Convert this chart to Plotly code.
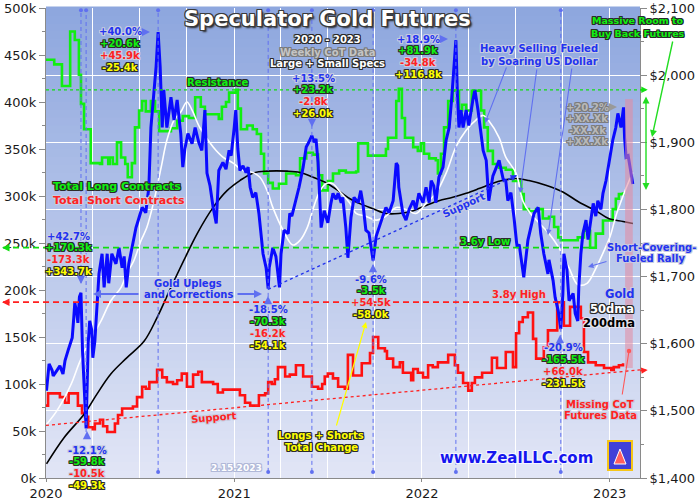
import pandas as pd
import plotly.graph_objects as go

# weekly CoT totals, thousands of contracts (step changes)
LONG_DATES = [
    "2020-01-01", "2020-01-17", "2020-02-01", "2020-02-17", "2020-02-26", "2020-03-05", "2020-03-09", "2020-03-15",
    "2020-03-28", "2020-04-15", "2020-04-19", "2020-05-01", "2020-05-04", "2020-05-10", "2020-05-18", "2020-05-26",
    "2020-06-03", "2020-06-08", "2020-06-16", "2020-06-22", "2020-06-30", "2020-07-06", "2020-07-13", "2020-07-23",
    "2020-07-31", "2020-08-08", "2020-08-31", "2020-09-12", "2020-09-23", "2020-10-05", "2020-10-17", "2020-10-28",
    "2020-11-05", "2020-12-02", "2020-12-08", "2020-12-16", "2020-12-22", "2021-01-04", "2021-01-08", "2021-01-14",
    "2021-01-26", "2021-02-06", "2021-02-14", "2021-02-22", "2021-02-28", "2021-03-08", "2021-03-17", "2021-03-29",
    "2021-04-12", "2021-05-01", "2021-05-09", "2021-05-21", "2021-06-03", "2021-06-13", "2021-06-21", "2021-07-02",
    "2021-07-12", "2021-07-24", "2021-08-06", "2021-08-26", "2021-08-30", "2021-09-18", "2021-10-23", "2021-10-27",
    "2021-11-12", "2021-11-17", "2021-11-23", "2021-11-29", "2021-12-15", "2021-12-24", "2021-12-30", "2022-01-05",
    "2022-01-15", "2022-01-28", "2022-02-01", "2022-02-07", "2022-02-13", "2022-02-21", "2022-03-02", "2022-03-14",
    "2022-03-20", "2022-03-28", "2022-04-08", "2022-04-26", "2022-05-02", "2022-05-09", "2022-05-19", "2022-05-31",
    "2022-06-13", "2022-06-27", "2022-07-13", "2022-07-18", "2022-07-28", "2022-08-11", "2022-08-24", "2022-09-05",
    "2022-09-15", "2022-09-23", "2022-09-28", "2022-10-31", "2022-11-12", "2022-11-24", "2022-12-05", "2022-12-19",
    "2023-01-07", "2023-01-13", "2023-01-19", "2023-01-27",
]
LONGS = [
    445, 440, 417, 475, 466, 429, 398, 371,
    335, 334, 341, 334, 341, 334, 357, 341,
    334, 320, 335, 373, 391, 401, 390, 401,
    390, 369, 372, 380, 385, 383, 405, 395,
    387, 382, 395, 400, 410, 413, 393, 371,
    375, 371, 366, 345, 324, 314, 308, 313,
    324, 322, 340, 346, 344, 322, 306, 316,
    324, 327, 325, 326, 356, 343, 350, 362,
    401, 414, 383, 362, 352, 348, 356, 345,
    340, 338, 324, 345, 373, 401, 412, 391,
    397, 391, 412, 391, 373, 348, 334, 330,
    328, 316, 302, 286, 284, 286, 276, 278,
    267, 256, 253, 256, 263, 245, 260, 274,
    286, 297, 302, 304,
]

SHORT_DATES = [
    "2020-01-01", "2020-01-05", "2020-01-28", "2020-02-07", "2020-02-14", "2020-03-03", "2020-03-11", "2020-03-17",
    "2020-03-23", "2020-04-01", "2020-04-05", "2020-04-15", "2020-04-21", "2020-04-29", "2020-05-14", "2020-05-20",
    "2020-05-28", "2020-06-18", "2020-06-26", "2020-07-06", "2020-07-13", "2020-07-20", "2020-08-04", "2020-08-14",
    "2020-08-23", "2020-09-04", "2020-09-12", "2020-09-21", "2020-10-01", "2020-10-13", "2020-10-23", "2020-10-30",
    "2020-11-21", "2020-11-30", "2020-12-10", "2021-01-12", "2021-01-22", "2021-02-01", "2021-02-18", "2021-03-02",
    "2021-03-08", "2021-03-15", "2021-03-21", "2021-03-27", "2021-04-10", "2021-04-19", "2021-05-01", "2021-05-15",
    "2021-06-01", "2021-06-13", "2021-06-21", "2021-06-26", "2021-07-02", "2021-07-12", "2021-07-22", "2021-08-04",
    "2021-08-10", "2021-08-20", "2021-09-06", "2021-09-22", "2021-09-28", "2021-10-08", "2021-10-21", "2021-10-25",
    "2021-11-06", "2021-11-19", "2021-11-25", "2021-12-11", "2021-12-15", "2021-12-24", "2022-01-03", "2022-01-13",
    "2022-01-22", "2022-02-01", "2022-02-21", "2022-03-06", "2022-03-12", "2022-03-22", "2022-04-01", "2022-04-08",
    "2022-04-14", "2022-04-28", "2022-05-17", "2022-05-27", "2022-06-13", "2022-06-27", "2022-07-03", "2022-07-09",
    "2022-07-16", "2022-07-26", "2022-08-05", "2022-08-11", "2022-08-26", "2022-09-03", "2022-09-21", "2022-10-04",
    "2022-10-16", "2022-11-06", "2022-11-12", "2022-11-20", "2022-12-05", "2022-12-21", "2023-01-04", "2023-01-09",
    "2023-01-19", "2023-01-27",
]
SHORTS = [
    77, 90, 86, 80, 90, 77, 69, 65,
    54, 52, 58, 62, 55, 49, 58, 67,
    74, 76, 86, 97, 95, 102, 115, 107,
    102, 100, 104, 111, 97, 110, 113, 102,
    100, 91, 94, 88, 80, 77, 88, 90,
    102, 100, 105, 118, 108, 110, 120, 108,
    97, 95, 100, 108, 111, 106, 97, 95,
    131, 109, 122, 133, 150, 138, 135, 127,
    118, 123, 112, 104, 116, 112, 107, 120,
    118, 123, 131, 120, 112, 101, 93, 101,
    107, 112, 128, 117, 134, 118, 154, 166,
    171, 176, 148, 127, 139, 157, 187, 162,
    182, 170, 134, 123, 120, 117, 115, 118,
    120, 122,
]

# gold price, US$/oz
GOLD_DATES = [
    "2020-01-02", "2020-01-07", "2020-01-13", "2020-01-15", "2020-01-22", "2020-01-28", "2020-02-03", "2020-02-07",
    "2020-02-13", "2020-02-21", "2020-02-24", "2020-02-26", "2020-03-01", "2020-03-03", "2020-03-06", "2020-03-09",
    "2020-03-12", "2020-03-16", "2020-03-19", "2020-03-23", "2020-03-26", "2020-03-30", "2020-04-01", "2020-04-05",
    "2020-04-09", "2020-04-13", "2020-04-19", "2020-04-23", "2020-04-29", "2020-05-02", "2020-05-08", "2020-05-16",
    "2020-05-22", "2020-05-28", "2020-06-01", "2020-06-05", "2020-06-10", "2020-06-16", "2020-06-24", "2020-06-30",
    "2020-07-06", "2020-07-13", "2020-07-19", "2020-07-23", "2020-07-29", "2020-08-02", "2020-08-06", "2020-08-10",
    "2020-08-14", "2020-08-17", "2020-08-23", "2020-08-31", "2020-09-06", "2020-09-12", "2020-09-19", "2020-09-23",
    "2020-09-27", "2020-10-03", "2020-10-11", "2020-10-17", "2020-10-24", "2020-10-30", "2020-11-05", "2020-11-09",
    "2020-11-15", "2020-11-21", "2020-11-27", "2020-12-02", "2020-12-10", "2020-12-16", "2020-12-22", "2020-12-26",
    "2021-01-01", "2021-01-04", "2021-01-08", "2021-01-12", "2021-01-18", "2021-01-24", "2021-01-28", "2021-02-01",
    "2021-02-06", "2021-02-12", "2021-02-18", "2021-02-22", "2021-02-26", "2021-03-04", "2021-03-08", "2021-03-10",
    "2021-03-17", "2021-03-23", "2021-03-30", "2021-04-02", "2021-04-08", "2021-04-16", "2021-04-19", "2021-04-23",
    "2021-05-01", "2021-05-07", "2021-05-15", "2021-05-21", "2021-05-26", "2021-06-01", "2021-06-05", "2021-06-09",
    "2021-06-13", "2021-06-15", "2021-06-19", "2021-06-25", "2021-07-02", "2021-07-08", "2021-07-12", "2021-07-18",
    "2021-07-22", "2021-07-28", "2021-07-31", "2021-08-06", "2021-08-10", "2021-08-16", "2021-08-22", "2021-08-30",
    "2021-09-04", "2021-09-08", "2021-09-14", "2021-09-20", "2021-09-28", "2021-10-04", "2021-10-09", "2021-10-17",
    "2021-10-23", "2021-10-29", "2021-11-06", "2021-11-12", "2021-11-15", "2021-11-17", "2021-11-25", "2021-12-01",
    "2021-12-07", "2021-12-15", "2021-12-20", "2021-12-26", "2022-01-03", "2022-01-09", "2022-01-15", "2022-01-19",
    "2022-01-24", "2022-01-28", "2022-02-03", "2022-02-11", "2022-02-17", "2022-02-23", "2022-02-28", "2022-03-04",
    "2022-03-08", "2022-03-11", "2022-03-14", "2022-03-18", "2022-03-22", "2022-03-28", "2022-04-02", "2022-04-10",
    "2022-04-14", "2022-04-20", "2022-04-26", "2022-04-30", "2022-05-06", "2022-05-09", "2022-05-11", "2022-05-19",
    "2022-05-25", "2022-05-31", "2022-06-08", "2022-06-13", "2022-06-17", "2022-06-23", "2022-06-29", "2022-07-05",
    "2022-07-09", "2022-07-13", "2022-07-18", "2022-07-26", "2022-08-01", "2022-08-07", "2022-08-15", "2022-08-20",
    "2022-08-26", "2022-09-03", "2022-09-05", "2022-09-13", "2022-09-17", "2022-09-23", "2022-09-28", "2022-10-02",
    "2022-10-04", "2022-10-10", "2022-10-14", "2022-10-22", "2022-10-26", "2022-10-31", "2022-11-02", "2022-11-06",
    "2022-11-10", "2022-11-16", "2022-11-20", "2022-11-26", "2022-11-30", "2022-12-05", "2022-12-09", "2022-12-15",
    "2022-12-19", "2022-12-25", "2022-12-31", "2023-01-07", "2023-01-13", "2023-01-17", "2023-01-23", "2023-01-28",
    "2023-01-30", "2023-02-02", "2023-02-06", "2023-02-10", "2023-02-15",
]
GOLD = [
    1530, 1570, 1560, 1552, 1560, 1567, 1555, 1575,
    1590, 1609, 1639, 1661, 1645, 1631, 1670, 1676,
    1590, 1515, 1474, 1600, 1634, 1620, 1579, 1604,
    1664, 1704, 1734, 1684, 1734, 1690, 1734, 1719,
    1743, 1713, 1730, 1684, 1719, 1743, 1773, 1788,
    1803, 1795, 1833, 1922, 1978, 2012, 2064, 2012,
    1922, 1978, 1922, 1967, 1933, 1963, 1913, 1863,
    1890, 1913, 1898, 1922, 1900, 1888, 1948, 1854,
    1835, 1803, 1779, 1858, 1870, 1860, 1888, 1880,
    1922, 1948, 1890, 1858, 1865, 1855, 1863, 1833,
    1818, 1825, 1794, 1764, 1734, 1713, 1682, 1713,
    1743, 1730, 1684, 1734, 1769, 1764, 1794, 1790,
    1813, 1833, 1863, 1893, 1900, 1910, 1900, 1905,
    1870, 1833, 1773, 1798, 1780, 1809, 1824, 1815,
    1824, 1810, 1818, 1773, 1728, 1788, 1818, 1810,
    1828, 1810, 1769, 1765, 1724, 1760, 1773, 1790,
    1803, 1795, 1813, 1869, 1865, 1833, 1794, 1784,
    1800, 1813, 1800, 1824, 1810, 1833, 1810, 1843,
    1835, 1810, 1848, 1863, 1903, 1922, 1967, 2012,
    2052, 1970, 1922, 1948, 1922, 1948, 1925, 1963,
    1978, 1948, 1913, 1888, 1873, 1840, 1813, 1850,
    1863, 1873, 1845, 1843, 1813, 1825, 1788, 1743,
    1748, 1724, 1699, 1754, 1773, 1794, 1803, 1764,
    1734, 1704, 1725, 1694, 1669, 1649, 1622, 1674,
    1734, 1710, 1664, 1675, 1645, 1634, 1684, 1734,
    1764, 1784, 1755, 1788, 1809, 1790, 1813, 1800,
    1824, 1843, 1873, 1903, 1922, 1943, 1922, 1952,
    1907, 1878, 1880, 1863, 1838,
]

MA50_DATES = [
    "2020-01-02", "2020-01-22", "2020-02-19", "2020-03-05", "2020-03-19", "2020-04-03", "2020-04-17", "2020-05-06",
    "2020-05-26", "2020-06-06", "2020-06-20", "2020-07-04", "2020-07-15", "2020-07-29", "2020-08-12", "2020-08-23",
    "2020-09-06", "2020-09-19", "2020-10-01", "2020-10-11", "2020-10-26", "2020-11-21", "2020-12-10", "2020-12-30",
    "2021-01-18", "2021-02-06", "2021-02-20", "2021-03-06", "2021-03-17", "2021-04-06", "2021-04-25", "2021-05-09",
    "2021-05-23", "2021-06-03", "2021-06-17", "2021-06-30", "2021-07-12", "2021-07-26", "2021-08-14", "2021-08-26",
    "2021-09-14", "2021-10-04", "2021-10-23", "2021-11-12", "2021-12-01", "2021-12-20", "2022-01-09", "2022-01-28",
    "2022-02-17", "2022-03-08", "2022-03-28", "2022-04-16", "2022-04-30", "2022-05-11", "2022-05-31", "2022-06-13",
    "2022-07-03", "2022-07-16", "2022-07-30", "2022-09-05", "2022-09-24", "2022-10-14", "2022-10-31", "2022-11-18",
    "2022-12-05", "2022-12-19", "2023-01-02", "2023-01-13", "2023-01-27", "2023-02-08", "2023-02-15",
]
MA50 = [
    1480, 1500, 1540, 1570, 1594, 1615, 1634, 1664,
    1684, 1704, 1724, 1754, 1773, 1813, 1863, 1903,
    1933, 1945, 1960, 1948, 1922, 1893, 1878, 1869,
    1858, 1855, 1848, 1828, 1803, 1769, 1747, 1754,
    1773, 1800, 1828, 1839, 1838, 1826, 1809, 1794,
    1790, 1784, 1790, 1803, 1800, 1794, 1809, 1824,
    1854, 1893, 1918, 1933, 1940, 1932, 1907, 1878,
    1854, 1813, 1795, 1764, 1743, 1713, 1688, 1690,
    1712, 1735, 1760, 1790, 1820, 1843, 1855,
]

MA200_DATES = [
    "2020-01-02", "2020-02-05", "2020-03-15", "2020-04-09", "2020-05-06", "2020-06-06", "2020-07-10", "2020-08-04",
    "2020-08-31", "2020-09-25", "2020-10-21", "2020-11-21", "2020-12-18", "2021-01-12", "2021-02-06", "2021-03-06",
    "2021-04-14", "2021-05-09", "2021-06-03", "2021-06-30", "2021-07-26", "2021-08-14", "2021-09-01", "2021-09-28",
    "2021-10-23", "2021-11-17", "2021-12-15", "2022-01-09", "2022-02-03", "2022-03-02", "2022-03-28", "2022-04-22",
    "2022-05-19", "2022-06-06", "2022-07-03", "2022-07-28", "2022-08-30", "2022-10-02", "2022-11-02", "2022-12-05",
    "2022-12-31", "2023-01-27", "2023-02-15",
]
MA200 = [
    1421, 1460, 1495, 1525, 1555, 1579, 1604, 1639,
    1684, 1724, 1764, 1803, 1828, 1843, 1854, 1857,
    1857, 1855, 1848, 1839, 1826, 1816, 1809, 1801,
    1794, 1794, 1798, 1806, 1813, 1818, 1824, 1831,
    1839, 1843, 1846, 1843, 1836, 1826, 1811, 1798,
    1786, 1782, 1779,
]

# marked gold highs and lows
EVENT_DATES = ["2020-03-09", "2020-03-19", "2020-08-06", "2021-03-08", "2021-06-01", "2021-09-28", "2022-03-08", "2022-09-28"]

RESISTANCE_K = 413
LOW_36Y_K = 245
LOW_36Y_DATE = "2022-11-24"
HIGH_38Y_K = 187
HIGH_38Y_DATE = "2022-09-21"
SHORT_SUPPORT_DATES = ["2020-01-01", "2023-03-01"]
SHORT_SUPPORT_K = [56, 115]
GOLD_SUPPORT_DATES = ["2021-03-08", "2022-07-05"]
GOLD_SUPPORT = [1681, 1851]
MISSING_COT = ["2023-01-31", "2023-02-15"]

YEAR_TICKS = ["2020-01-01", "2021-01-01", "2022-01-01", "2023-01-01"]
YEAR_LABELS = ["2020", "2021", "2022", "2023"]

W, H = 700, 500
ML, MR, MT, MB = 46, 60, 8, 22
PW, PH = W - ML - MR, H - MT - MB
X0, X1 = pd.Timestamp("2020-01-01"), pd.Timestamp("2023-03-01")

FONT = "DejaVu Sans"
BLUE, GREEN, RED, YELLOW, GRAY = "#2233f0", "#11f011", "#ff2222", "#ffff00", "#b8b8b8"
DARK, LIGHT = "#2a2a2a", "#c8cce0"
ARROW = "#6070f0"


def px(x, y):
    # picture pixel -> paper fraction
    return (x - ML) / PW, (H - MB - y) / PH


def xfrac(d):
    return (pd.Timestamp(d) - X0) / (X1 - X0)


def halo(c, w=1):
    return ", ".join(f"{dx}px {dy}px 0 {c}" for dx in (-w, 0, w) for dy in (-w, 0, w) if dx or dy)


ann = []
shapes = []


def label(text, x, y, color, edge, size=10, angle=0):
    xp, yp = px(x, y)
    ann.append(dict(text="<b>" + text + "</b>", x=xp, y=yp, xref="paper", yref="paper",
                    xanchor="center", yanchor="middle", showarrow=False, textangle=angle,
                    font=dict(family=FONT, size=size, color=color, shadow=halo(edge))))


def arrow(x0, y0, x1, y1, color, width=1.0, head=2, size=1.0, side="end"):
    xp, yp = px(x1, y1)
    ann.append(dict(text="", x=xp, y=yp, xref="paper", yref="paper", ax=x0 - x1, ay=y0 - y1,
                    showarrow=True, arrowhead=head, arrowsize=size, arrowwidth=width,
                    arrowcolor=color, arrowside=side, standoff=0, startstandoff=0))


# gradient plot background
top, bot = (141, 166, 222), (226, 230, 246)
n = 60
for i in range(n):
    c = tuple(round(b + (t - b) * (i + 0.5) / n) for b, t in zip(bot, top))
    shapes.append(dict(type="rect", xref="paper", yref="paper", x0=0, x1=1, y0=i / n, y1=(i + 1) / n + 0.003,
                       fillcolor="rgb(%d,%d,%d)" % c, line_width=0, layer="below"))

# event lines
for i, d in enumerate(EVENT_DATES):
    y_end = [px(0, 283)[1], px(0, 432)[1]][i] if i < 2 else 0.013
    shapes.append(dict(type="line", xref="x", yref="paper", x0=d, x1=d, y0=y_end, y1=0.995,
                       line=dict(color=ARROW, width=1, dash="4px,3px")))
    ends = [0.995] if i < 2 else [0.995, 0.013]
    for ye in ends:
        shapes.append(dict(type="circle", xref="x", yref="paper", xsizemode="pixel", ysizemode="pixel",
                           xanchor=d, yanchor=ye, x0=-2, x1=2, y0=-2, y1=2,
                           fillcolor=ARROW, line_width=0))

# level / trend lines
shapes += [
    dict(type="line", xref="paper", yref="y", x0=0, x1=1.01, y0=RESISTANCE_K, y1=RESISTANCE_K,
         line=dict(color="#11e011", width=1.3, dash="dot")),
    dict(type="line", xref="paper", yref="y", x0=px(3, 0)[0], x1=xfrac(LOW_36Y_DATE), y0=LOW_36Y_K, y1=LOW_36Y_K,
         line=dict(color="#11dd11", width=1.8, dash="6px,4px")),
    dict(type="line", xref="paper", yref="y", x0=px(3, 0)[0], x1=xfrac(HIGH_38Y_DATE), y0=HIGH_38Y_K, y1=HIGH_38Y_K,
         line=dict(color="#ff2020", width=1.8, dash="6px,4px")),
    dict(type="line", xref="x", yref="y", x0=SHORT_SUPPORT_DATES[0], x1=SHORT_SUPPORT_DATES[1],
         y0=SHORT_SUPPORT_K[0], y1=SHORT_SUPPORT_K[1], line=dict(color="#ff2020", width=1.3, dash="dot")),
    dict(type="line", xref="x", yref="y2", x0=GOLD_SUPPORT_DATES[0], x1=GOLD_SUPPORT_DATES[1],
         y0=GOLD_SUPPORT[0], y1=GOLD_SUPPORT[1], line=dict(color="#2233ee", width=1.3, dash="dot")),
    dict(type="rect", xref="x", yref="paper", x0=MISSING_COT[0], x1=MISSING_COT[1],
         y0=px(0, 368)[1], y1=px(0, 99)[1], fillcolor="rgba(228,138,160,0.55)", line_width=0, layer="above"),
]
# logo
lx0, ly0 = px(608, 470)
lx1, ly1 = px(632, 441)
shapes.append(dict(type="rect", xref="paper", yref="paper", x0=lx0, x1=lx1, y0=ly0, y1=ly1,
                   fillcolor="#4040d8", line=dict(color="#f5c518", width=2), layer="above"))
cx0, cy0 = px(614, 464)
cx1, cy1 = px(626, 449)
shapes.append(dict(type="path", xref="paper", yref="paper",
                   path=f"M {cx0},{cy0} L {(cx0 + cx1) / 2},{cy1} L {cx1},{cy0} Z",
                   fillcolor="#ff6060", line=dict(color="white", width=1), layer="above"))

# arrowheads on level lines
ann.append(dict(text="", x=1.013, y=RESISTANCE_K, xref="paper", yref="y", ax=-9, ay=0, showarrow=True,
                arrowhead=2, arrowsize=1, arrowwidth=1.3, arrowcolor="#11e011", standoff=0))
ann.append(dict(text="", x=1.013, y=SHORT_SUPPORT_K[1], xref="paper", yref="y", ax=-9, ay=1, showarrow=True,
                arrowhead=2, arrowsize=1, arrowwidth=1.3, arrowcolor="#ff2020", standoff=0))
ann.append(dict(text="", x=px(2, 0)[0], y=LOW_36Y_K, xref="paper", yref="y", ax=9, ay=0, showarrow=True,
                arrowhead=2, arrowsize=1, arrowwidth=1.5, arrowcolor="#11dd11", standoff=0))
ann.append(dict(text="", x=px(2, 0)[0], y=HIGH_38Y_K, xref="paper", yref="y", ax=9, ay=0, showarrow=True,
                arrowhead=2, arrowsize=1, arrowwidth=1.5, arrowcolor="#ff2020", standoff=0))
ann.append(dict(text="", x=GOLD_SUPPORT_DATES[1], y=GOLD_SUPPORT[1], xref="x", yref="y2", ax=-10, ay=5,
                showarrow=True, arrowhead=2, arrowsize=1, arrowwidth=1.3, arrowcolor="#2233ee", standoff=0))

# title block
xp, yp = px(327, 19)
ann.append(dict(text="<b>Speculator Gold Futures</b>", x=xp, y=yp, xref="paper", yref="paper", showarrow=False,
                xanchor="center", yanchor="middle",
                font=dict(family=FONT, size=21, color="white", shadow=halo("#3a3a3a") + ", 2px 2px 2px #222")))
label("2020 - 2023", 327, 39, "white", DARK)
label("Weekly CoT Data", 327, 52, "#c4c4c4", "#7a7a7a")
label("Large + Small Specs", 327, 64, "white", DARK)

# change groups: gold %, longs, shorts, total
groups = [
    (120, 32, ["+40.0%", "+20.6k", "+45.9k", "-25.4k"]),
    (313, 78, ["+13.5%", "+23.2k", "-2.8k", "+26.0k"]),
    (418, 39, ["+18.9%", "+81.9k", "-34.8k", "+116.8k"]),
    (68, 236, ["+42.7%", "+170.3k", "-173.3k", "+343.7k"]),
    (87, 450, ["-12.1%", "-59.8k", "-10.5k", "-49.3k"]),
    (268, 310, ["-18.5%", "-70.3k", "-16.2k", "-54.1k"]),
    (371, 279, ["-9.6%", "-3.5k", "+54.5k", "-58.0k"]),
    (563, 348, ["-20.9%", "-165.5k", "+66.0k", "-231.5k"]),
]
cols = [(BLUE, LIGHT), (GREEN, DARK), (RED, LIGHT), (YELLOW, DARK)]
for gx, gy, texts in groups:
    for k, (t, (c, e)) in enumerate(zip(texts, cols)):
        label(t, gx, gy + k * 11.8, c, e)
for k, t in enumerate(["+20.2%", "+XX.Xk", "-XX.Xk", "+XX.Xk"]):
    label(t, 587, 107 + k * 11.6, GRAY, "#7c7c7c")

# small pointers
arrow(141, 32, 150, 32, ARROW, 1.5, 2, 1.1)
arrow(439, 39, 448, 39, ARROW, 1.5, 2, 1.1)
arrow(608, 107, 617, 107, "#999999", 1.5, 2, 1.1)
arrow(312, 119, 312, 127, ARROW, 1.5, 2, 1.1)
arrow(81, 275, 81, 284, ARROW, 1.5, 2, 1.1)
arrow(87, 439, 87, 431, ARROW, 1.5, 2, 1.1)
arrow(268, 304, 268, 296, ARROW, 1.5, 2, 1.1)
arrow(373, 272, 373, 264, ARROW, 1.5, 2, 1.1)
arrow(560, 343, 560, 335, ARROW, 1.5, 2, 1.1)

label("Resistance", 217, 82, GREEN, DARK)
label("Total Long Contracts", 117, 186, GREEN, DARK, 11)
label("Total Short Contracts", 119, 200, RED, LIGHT, 11)
label("Gold Uplegs", 188, 283, BLUE, LIGHT)
label("and Corrections", 188, 294, BLUE, LIGHT)
arrow(140, 294, 93, 294, ARROW, 2, 2, 0.8)
arrow(236, 294, 262, 294, ARROW, 2, 2, 0.8)
label("Support", 463, 205, BLUE, LIGHT, 10, -25)
label("Support", 213, 417, RED, LIGHT, 10, -5)
label("3.6y Low", 485, 241, GREEN, DARK)
label("3.8y High", 519, 294, RED, LIGHT)
label("Longs + Shorts", 321, 435, YELLOW, DARK)
label("Total Change", 321, 447, YELLOW, DARK)
arrow(336, 427, 366, 322, YELLOW, 1.2, 2, 1)
label("Heavy Selling Fueled", 539, 48, BLUE, LIGHT)
label("by Soaring US Dollar", 539, 61, BLUE, LIGHT)
arrow(507, 66, 485, 123, ARROW, 1.1, 2, 1)
arrow(537, 68, 520, 193, ARROW, 1.1, 2, 1)
arrow(572, 67, 548, 235, ARROW, 1.1, 2, 1)
label("Massive Room to", 637, 21, GREEN, DARK, 9.5)
label("Buy Back Futures", 638, 33, GREEN, DARK, 9.5)
arrow(673, 40, 652, 137, "#22dd22", 1.4, 2, 1)
arrow(646, 95, 646, 190, "#22dd22", 1.4, 2, 1, "end+start")
label("Short-Covering-", 651, 247, BLUE, LIGHT)
label("Fueled Rally", 650, 258, BLUE, LIGHT)
arrow(608, 261, 588, 267, ARROW, 1.1, 2, 1)
label("Gold", 620, 294, BLUE, LIGHT, 11.5)
label("50dma", 612, 309, "white", DARK, 11.5)
label("200dma", 609, 323, "black", "#e4e4ee", 11.5)
label("Missing CoT", 600, 404, RED, LIGHT)
label("Futures Data", 600, 415, RED, LIGHT)
arrow(622, 396, 629, 351, "#ff5555", 1.1, 6, 1)
label("www.ZealLLC.com", 516, 458, "#1515ee", "#f4f4ff", 15)
label("2.15.2023", 236, 468, "white", "#b0b8d8", 9)

fig = go.Figure()
fig.add_trace(go.Scatter(x=LONG_DATES, y=LONGS, mode="lines", name="Total Long Contracts",
                         line=dict(color="#11ee11", width=2.6, shape="hv")))
fig.add_trace(go.Scatter(x=SHORT_DATES, y=SHORTS, mode="lines", name="Total Short Contracts",
                         line=dict(color="#ff1111", width=2.6, shape="hv")))
fig.add_trace(go.Scatter(x=MA200_DATES, y=MA200, mode="lines", name="200dma", yaxis="y2",
                         line=dict(color="black", width=1.6, shape="spline")))
fig.add_trace(go.Scatter(x=MA50_DATES, y=MA50, mode="lines", name="50dma", yaxis="y2",
                         line=dict(color="white", width=1.6, shape="spline")))
fig.add_trace(go.Scatter(x=GOLD_DATES, y=GOLD, mode="lines", name="Gold", yaxis="y2",
                         line=dict(color="#0a0aff", width=3)))

axis_common = dict(showline=True, linecolor="#8a8a8a", linewidth=1, ticks="outside", tickcolor="#8a8a8a",
                   ticklen=6, tickfont=dict(family=FONT, size=13, color="#1a1a1a"), zeroline=False,
                   automargin=False)
fig.update_layout(
    width=W, height=H,
    margin=dict(l=ML, r=MR, t=MT, b=MB, autoexpand=False),
    paper_bgcolor="white", plot_bgcolor="rgba(0,0,0,0)",
    showlegend=False,
    xaxis=dict(type="date", range=[X0, X1], tickvals=YEAR_TICKS, ticktext=YEAR_LABELS,
               showgrid=True, gridcolor="white", gridwidth=1,
               minor=dict(dtick="M3", tick0="2020-01-01", showgrid=True, gridcolor="white", gridwidth=1),
               **{**axis_common, "ticklen": 3}),
    yaxis=dict(range=[0, 500], dtick=50, ticksuffix="k", showgrid=False,
               minor=dict(dtick=25, ticks="outside", ticklen=3, tickcolor="#8a8a8a"), **axis_common),
    yaxis2=dict(range=[1400, 2100], dtick=100, tickprefix="$", tickformat=",", overlaying="y", side="right",
                showgrid=True, gridcolor="white", gridwidth=1,
                minor=dict(dtick=50, ticks="outside", ticklen=3, tickcolor="#8a8a8a"), **axis_common),
    shapes=shapes,
    annotations=ann,
)

# the browser's default 8px body margin would shift the figure off the picture's origin
fig.write_html("out.html", config={"displayModeBar": False},
               post_script="document.body.style.margin = '0';")
